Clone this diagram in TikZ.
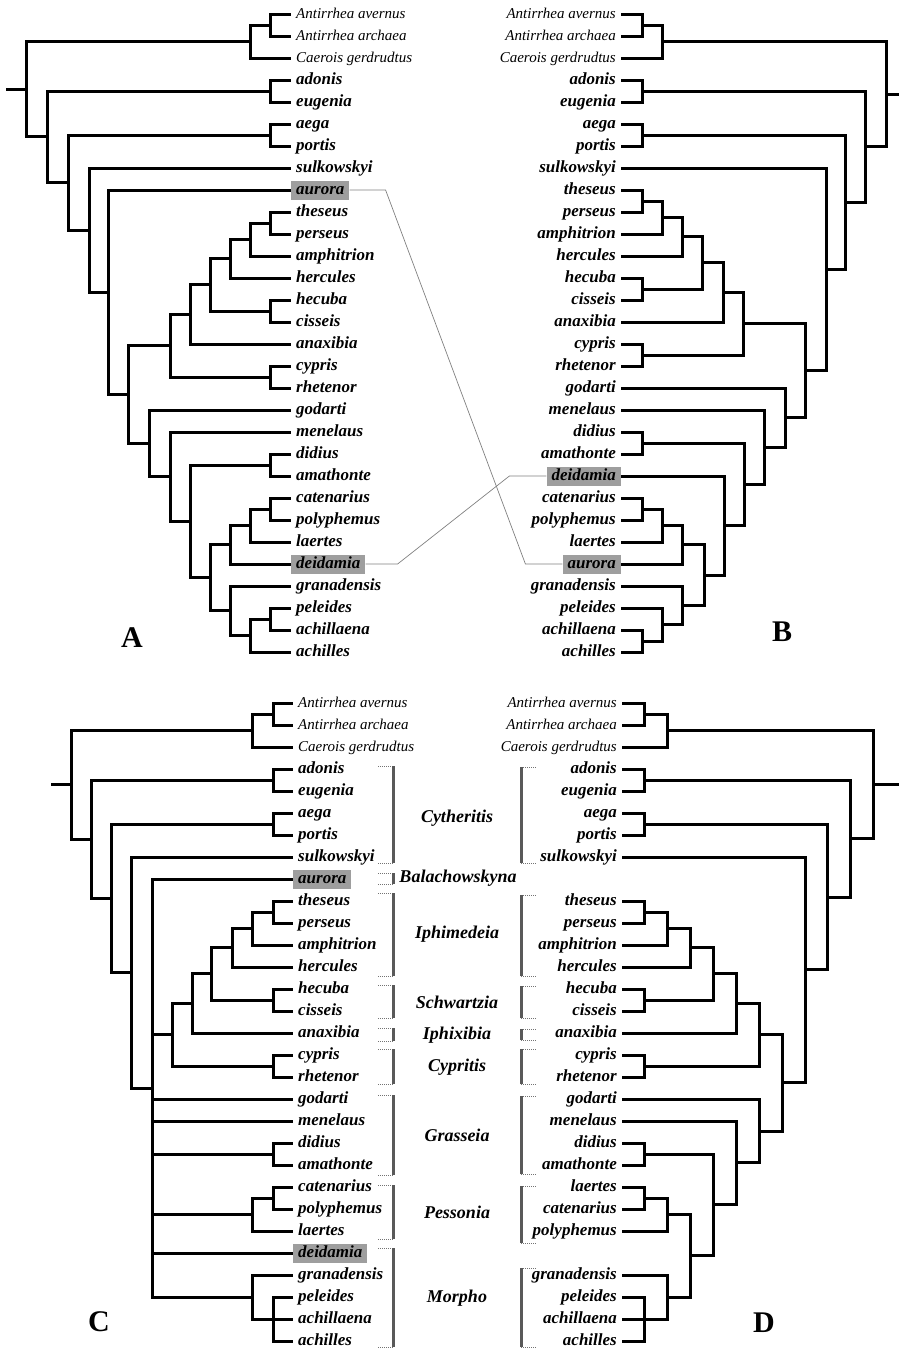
\documentclass[tikz,border=0pt]{standalone}
\usepackage{fontspec}
\setmainfont{Liberation Serif}
\usepackage{tikz}

\newcommand\spfont{\fontsize{17}{17}\selectfont\bfseries\itshape}
\newcommand\ogfont{\fontsize{15}{15}\selectfont\itshape}
\newcommand\grfont{\fontsize{18}{18}\selectfont\bfseries\itshape}

\begin{document}
\begin{tikzpicture}[x=1pt, y=-1pt,
  br/.style={line width=3pt},
  sp/.style={font=\spfont, inner xsep=5pt, inner ysep=1.5pt, text height=12pt, text depth=4pt},
  og/.style={sp, font=\ogfont},
  pl/.style={},
  hl/.style={fill=black!38},
  link/.style={gray, line width=0.7pt},
  grpbar/.style={black!65, line width=3pt},
  grptick/.style={black!55, densely dotted, line width=1pt},
  grp/.style={font=\grfont},
  panel/.style={font=\fontsize{30}{30}\selectfont\bfseries}]

\useasboundingbox (0,0) rectangle (899,1349);

% ---------------- A ----------------
% Hojas A
\foreach \i/\nm/\st in {0/Antirrhea avernus/og, 1/Antirrhea archaea/og, 2/Caerois gerdrudtus/og,
  3/adonis/pl, 4/eugenia/pl, 5/aega/pl, 6/portis/pl, 7/sulkowskyi/pl, 8/aurora/hl,
  9/theseus/pl, 10/perseus/pl, 11/amphitrion/pl, 12/hercules/pl, 13/hecuba/pl, 14/cisseis/pl,
  15/anaxibia/pl, 16/cypris/pl, 17/rhetenor/pl, 18/godarti/pl, 19/menelaus/pl, 20/didius/pl,
  21/amathonte/pl, 22/catenarius/pl, 23/polyphemus/pl, 24/laertes/pl, 25/deidamia/hl,
  26/granadensis/pl, 27/peleides/pl, 28/achillaena/pl, 29/achilles/pl}
  \node[sp, \st, anchor=west] (a\i) at (291, {14+22*\i}) {\nm};

% Nodos internos A
\coordinate (aO1) at (270,25);
\coordinate (aO) at (250,41.5);
\coordinate (aC1) at (270,91);
\coordinate (aC2) at (270,135);
\coordinate (aIph1) at (270,223);
\coordinate (aIph2) at (250,239.5);
\coordinate (aIph) at (230,258.8);
\coordinate (aSch) at (270,311);
\coordinate (aN3) at (210,284.9);
\coordinate (aN4) at (190,314.4);
\coordinate (aCyp) at (270,377);
\coordinate (aN5) at (170,345.7);
\coordinate (aDid) at (270,465);
\coordinate (aPes1) at (270,509);
\coordinate (aPes) at (250,525.5);
\coordinate (aPD) at (230,544.8);
\coordinate (aMor2) at (270,619);
\coordinate (aMor1) at (250,635.5);
\coordinate (aMor) at (230,610.8);
\coordinate (aM1) at (210,577.8);
\coordinate (aM2) at (190,521.4);
\coordinate (aM3) at (170,476.7);
\coordinate (aM4) at (149,443.4);
\coordinate (aN6) at (128,394.5);
\coordinate (aN7) at (108,292.3);
\coordinate (aN8) at (89,230.1);
\coordinate (aN9) at (68,182.6);
\coordinate (aIn) at (47,136.8);
\coordinate (aRoot) at (26,89.2);
\coordinate (aStub) at (6,89.2);

% Ramas A
\draw[br] (aO1) |- (a0) (aO1) |- (a1);
\draw[br] (aO) |- (aO1) (aO) |- (a2);
\draw[br] (aC1) |- (a3) (aC1) |- (a4);
\draw[br] (aC2) |- (a5) (aC2) |- (a6);
\draw[br] (aIph1) |- (a9) (aIph1) |- (a10);
\draw[br] (aIph2) |- (aIph1) (aIph2) |- (a11);
\draw[br] (aIph) |- (aIph2) (aIph) |- (a12);
\draw[br] (aSch) |- (a13) (aSch) |- (a14);
\draw[br] (aN3) |- (aIph) (aN3) |- (aSch);
\draw[br] (aN4) |- (aN3) (aN4) |- (a15);
\draw[br] (aCyp) |- (a16) (aCyp) |- (a17);
\draw[br] (aN5) |- (aN4) (aN5) |- (aCyp);
\draw[br] (aDid) |- (a20) (aDid) |- (a21);
\draw[br] (aPes1) |- (a22) (aPes1) |- (a23);
\draw[br] (aPes) |- (aPes1) (aPes) |- (a24);
\draw[br] (aPD) |- (aPes) (aPD) |- (a25);
\draw[br] (aMor2) |- (a27) (aMor2) |- (a28);
\draw[br] (aMor1) |- (aMor2) (aMor1) |- (a29);
\draw[br] (aMor) |- (a26) (aMor) |- (aMor1);
\draw[br] (aM1) |- (aPD) (aM1) |- (aMor);
\draw[br] (aM2) |- (aDid) (aM2) |- (aM1);
\draw[br] (aM3) |- (a19) (aM3) |- (aM2);
\draw[br] (aM4) |- (a18) (aM4) |- (aM3);
\draw[br] (aN6) |- (aN5) (aN6) |- (aM4);
\draw[br] (aN7) |- (a8) (aN7) |- (aN6);
\draw[br] (aN8) |- (a7) (aN8) |- (aN7);
\draw[br] (aN9) |- (aC2) (aN9) |- (aN8);
\draw[br] (aIn) |- (aC1) (aIn) |- (aN9);
\draw[br] (aRoot) |- (aO) (aRoot) |- (aIn);
\draw[br] (aStub) -- (aRoot);

\node[panel] (lblA) at (132,638) {A};

% ---------------- B ----------------
% Hojas B
\foreach \i/\nm/\st in {0/Antirrhea avernus/og, 1/Antirrhea archaea/og, 2/Caerois gerdrudtus/og,
  3/adonis/pl, 4/eugenia/pl, 5/aega/pl, 6/portis/pl, 7/sulkowskyi/pl, 8/theseus/pl,
  9/perseus/pl, 10/amphitrion/pl, 11/hercules/pl, 12/hecuba/pl, 13/cisseis/pl, 14/anaxibia/pl,
  15/cypris/pl, 16/rhetenor/pl, 17/godarti/pl, 18/menelaus/pl, 19/didius/pl, 20/amathonte/pl,
  21/deidamia/hl, 22/catenarius/pl, 23/polyphemus/pl, 24/laertes/pl, 25/aurora/hl,
  26/granadensis/pl, 27/peleides/pl, 28/achillaena/pl, 29/achilles/pl}
  \node[sp, \st, anchor=east] (b\i) at (621, {14+22*\i}) {\nm};

% Nodos internos B
\coordinate (bO1) at (642,25);
\coordinate (bO) at (662,41.5);
\coordinate (bC1) at (642,91);
\coordinate (bC2) at (642,135);
\coordinate (bIph1) at (642,201);
\coordinate (bIph2) at (662,217.5);
\coordinate (bIph) at (682,236.8);
\coordinate (bSch) at (642,289);
\coordinate (bN3) at (702,262.9);
\coordinate (bN4) at (723,292.4);
\coordinate (bCyp) at (642,355);
\coordinate (bN5) at (743,323.7);
\coordinate (bDid) at (642,443);
\coordinate (bPes1) at (642,509);
\coordinate (bPes) at (662,525.5);
\coordinate (bPA) at (682,544.8);
\coordinate (bMor2) at (642,641);
\coordinate (bMor1) at (662,624.5);
\coordinate (bMor) at (682,605.3);
\coordinate (bM1) at (704,575);
\coordinate (bM2) at (724,525.5);
\coordinate (bM3) at (744,484.3);
\coordinate (bM4) at (764,447.1);
\coordinate (bM5) at (785,417.6);
\coordinate (bN6) at (805,370.6);
\coordinate (bN7) at (826,269.3);
\coordinate (bN8) at (845,202.2);
\coordinate (bIn) at (865,146.6);
\coordinate (bRoot) at (886,94);
\coordinate (bStub) at (899,94);

% Ramas B
\draw[br] (bO1) |- (b0) (bO1) |- (b1);
\draw[br] (bO) |- (bO1) (bO) |- (b2);
\draw[br] (bC1) |- (b3) (bC1) |- (b4);
\draw[br] (bC2) |- (b5) (bC2) |- (b6);
\draw[br] (bIph1) |- (b8) (bIph1) |- (b9);
\draw[br] (bIph2) |- (bIph1) (bIph2) |- (b10);
\draw[br] (bIph) |- (bIph2) (bIph) |- (b11);
\draw[br] (bSch) |- (b12) (bSch) |- (b13);
\draw[br] (bN3) |- (bIph) (bN3) |- (bSch);
\draw[br] (bN4) |- (bN3) (bN4) |- (b14);
\draw[br] (bCyp) |- (b15) (bCyp) |- (b16);
\draw[br] (bN5) |- (bN4) (bN5) |- (bCyp);
\draw[br] (bDid) |- (b19) (bDid) |- (b20);
\draw[br] (bPes1) |- (b22) (bPes1) |- (b23);
\draw[br] (bPes) |- (bPes1) (bPes) |- (b24);
\draw[br] (bPA) |- (bPes) (bPA) |- (b25);
\draw[br] (bMor2) |- (b28) (bMor2) |- (b29);
\draw[br] (bMor1) |- (b27) (bMor1) |- (bMor2);
\draw[br] (bMor) |- (b26) (bMor) |- (bMor1);
\draw[br] (bM1) |- (bPA) (bM1) |- (bMor);
\draw[br] (bM2) |- (b21) (bM2) |- (bM1);
\draw[br] (bM3) |- (bDid) (bM3) |- (bM2);
\draw[br] (bM4) |- (b18) (bM4) |- (bM3);
\draw[br] (bM5) |- (b17) (bM5) |- (bM4);
\draw[br] (bN6) |- (bN5) (bN6) |- (bM5);
\draw[br] (bN7) |- (b7) (bN7) |- (bN6);
\draw[br] (bN8) |- (bC2) (bN8) |- (bN7);
\draw[br] (bIn) |- (bC1) (bIn) |- (bN8);
\draw[br] (bRoot) |- (bO) (bRoot) |- (bIn);
\draw[br] (bStub) -- (bRoot);

\node[panel] (lblB) at (782,632) {B};

% Lineas que unen aurora y deidamia
\draw[link] (a8.east) -- ++(36,0) -- ([xshift=-37pt]b25.west) -- (b25.west);
\draw[link] (a25.east) -- ++(32,0) -- ([xshift=-37pt]b21.west) -- (b21.west);

% ---------------- C ----------------
% Hojas C
\foreach \i/\nm/\st in {0/Antirrhea avernus/og, 1/Antirrhea archaea/og, 2/Caerois gerdrudtus/og,
  3/adonis/pl, 4/eugenia/pl, 5/aega/pl, 6/portis/pl, 7/sulkowskyi/pl, 8/aurora/hl,
  9/theseus/pl, 10/perseus/pl, 11/amphitrion/pl, 12/hercules/pl, 13/hecuba/pl, 14/cisseis/pl,
  15/anaxibia/pl, 16/cypris/pl, 17/rhetenor/pl, 18/godarti/pl, 19/menelaus/pl, 20/didius/pl,
  21/amathonte/pl, 22/catenarius/pl, 23/polyphemus/pl, 24/laertes/pl, 25/deidamia/hl,
  26/granadensis/pl, 27/peleides/pl, 28/achillaena/pl, 29/achilles/pl}
  \node[sp, \st, anchor=west] (c\i) at (293, {703+22*\i}) {\nm};

% Nodos internos C
\coordinate (cO1) at (273,714);
\coordinate (cO) at (252,730.5);
\coordinate (cC1) at (273,780);
\coordinate (cC2) at (273,824);
\coordinate (cIph1) at (273,912);
\coordinate (cIph2) at (252,928.5);
\coordinate (cIph) at (232,947.8);
\coordinate (cSch) at (273,1000);
\coordinate (cN3) at (211,973.9);
\coordinate (cN4) at (192,1003.4);
\coordinate (cCyp) at (273,1066);
\coordinate (cN5) at (172,1034.7);
\coordinate (cDid) at (273,1154);
\coordinate (cPes1) at (273,1198);
\coordinate (cPes) at (252,1214.5);
\coordinate (cMor1) at (273,1319);
\coordinate (cMor) at (252,1297);
\coordinate (cPoly) at (152,1088);
\coordinate (cN7) at (131,972.5);
\coordinate (cN8) at (111,898.3);
\coordinate (cIn) at (91,839.1);
\coordinate (cRoot) at (71,784.8);
\coordinate (cStub) at (51,784.8);

% Ramas C
\draw[br] (cO1) |- (c0) (cO1) |- (c1);
\draw[br] (cO) |- (cO1) (cO) |- (c2);
\draw[br] (cC1) |- (c3) (cC1) |- (c4);
\draw[br] (cC2) |- (c5) (cC2) |- (c6);
\draw[br] (cIph1) |- (c9) (cIph1) |- (c10);
\draw[br] (cIph2) |- (cIph1) (cIph2) |- (c11);
\draw[br] (cIph) |- (cIph2) (cIph) |- (c12);
\draw[br] (cSch) |- (c13) (cSch) |- (c14);
\draw[br] (cN3) |- (cIph) (cN3) |- (cSch);
\draw[br] (cN4) |- (cN3) (cN4) |- (c15);
\draw[br] (cCyp) |- (c16) (cCyp) |- (c17);
\draw[br] (cN5) |- (cN4) (cN5) |- (cCyp);
\draw[br] (cDid) |- (c20) (cDid) |- (c21);
\draw[br] (cPes1) |- (c22) (cPes1) |- (c23);
\draw[br] (cPes) |- (cPes1) (cPes) |- (c24);
\draw[br] (cMor1) |- (c27) (cMor1) |- (c28) (cMor1) |- (c29);
\draw[br] (cMor) |- (c26) (cMor) |- (cMor1);
\draw[br] (cPoly) |- (c8) (cPoly) |- (cN5) (cPoly) |- (c18) (cPoly) |- (c19)
          (cPoly) |- (cDid) (cPoly) |- (cPes) (cPoly) |- (c25) (cPoly) |- (cMor);
\draw[br] (cN7) |- (c7) (cN7) |- (cPoly);
\draw[br] (cN8) |- (cC2) (cN8) |- (cN7);
\draw[br] (cIn) |- (cC1) (cIn) |- (cN8);
\draw[br] (cRoot) |- (cO) (cRoot) |- (cIn);
\draw[br] (cStub) -- (cRoot);

\node[panel] (lblC) at (99,1322) {C};

% Corchetes C
\draw[grptick] (378,766) -- (393,766) (378,863) -- (393,863);
\draw[grpbar] (393,766) -- (393,863);
\draw[grptick] (378,873) -- (393,873) (378,884) -- (393,884);
\draw[grpbar] (393,873) -- (393,884);
\draw[grptick] (378,893) -- (393,893) (378,976) -- (393,976);
\draw[grpbar] (393,893) -- (393,976);
\draw[grptick] (378,985) -- (393,985) (378,1018) -- (393,1018);
\draw[grpbar] (393,985) -- (393,1018);
\draw[grptick] (378,1028) -- (393,1028) (378,1041) -- (393,1041);
\draw[grpbar] (393,1028) -- (393,1041);
\draw[grptick] (378,1049) -- (393,1049) (378,1084) -- (393,1084);
\draw[grpbar] (393,1049) -- (393,1084);
\draw[grptick] (378,1095) -- (393,1095) (378,1175) -- (393,1175);
\draw[grpbar] (393,1095) -- (393,1175);
\draw[grptick] (378,1185) -- (393,1185) (378,1239) -- (393,1239);
\draw[grpbar] (393,1185) -- (393,1239);
\draw[grptick] (378,1248) -- (393,1248) (378,1347) -- (393,1347);
\draw[grpbar] (393,1248) -- (393,1347);

% Nombres de grupos
\node[grp] (gCyt) at (457,818) {Cytheritis};
\node[grp] (gBal) at (458,878) {Balachowskyna};
\node[grp] (gIph) at (457,934) {Iphimedeia};
\node[grp] (gSch) at (457,1002) {Schwartzia};
\node[grp] (gIpx) at (457,1035) {Iphixibia};
\node[grp] (gCyp) at (457,1067) {Cypritis};
\node[grp] (gGra) at (457,1135) {Grasseia};
\node[grp] (gPes) at (457,1212) {Pessonia};
\node[grp] (gMor) at (457,1298) {Morpho};

% ---------------- D ----------------
% Hojas D
\foreach \i/\nm/\st in {0/Antirrhea avernus/og, 1/Antirrhea archaea/og, 2/Caerois gerdrudtus/og,
  3/adonis/pl, 4/eugenia/pl, 5/aega/pl, 6/portis/pl, 7/sulkowskyi/pl,
  9/theseus/pl, 10/perseus/pl, 11/amphitrion/pl, 12/hercules/pl, 13/hecuba/pl, 14/cisseis/pl,
  15/anaxibia/pl, 16/cypris/pl, 17/rhetenor/pl, 18/godarti/pl, 19/menelaus/pl, 20/didius/pl,
  21/amathonte/pl, 22/laertes/pl, 23/catenarius/pl, 24/polyphemus/pl,
  26/granadensis/pl, 27/peleides/pl, 28/achillaena/pl, 29/achilles/pl}
  \node[sp, \st, anchor=east] (d\i) at (622, {703+22*\i}) {\nm};

% Nodos internos D
\coordinate (dO1) at (644,714);
\coordinate (dO) at (667,730.5);
\coordinate (dC1) at (644,780);
\coordinate (dC2) at (644,824);
\coordinate (dIph1) at (644,912);
\coordinate (dIph2) at (667,928.5);
\coordinate (dIph) at (690,947.8);
\coordinate (dSch) at (644,1000);
\coordinate (dN3) at (713,973.9);
\coordinate (dN4) at (736,1003.4);
\coordinate (dCyp) at (644,1066);
\coordinate (dN5) at (759,1034.7);
\coordinate (dDid) at (644,1154);
\coordinate (dPes1) at (644,1198);
\coordinate (dPes) at (667,1214.5);
\coordinate (dMor1) at (644,1319);
\coordinate (dMor) at (667,1297);
\coordinate (dPM) at (690,1255.8);
\coordinate (dM1) at (713,1204.9);
\coordinate (dM2) at (736,1162.9);
\coordinate (dM3) at (759,1131);
\coordinate (dN6) at (782,1082.9);
\coordinate (dN7) at (805,969.9);
\coordinate (dN8) at (827,897);
\coordinate (dIn) at (850,838.5);
\coordinate (dRoot) at (873,784.5);
\coordinate (dStub) at (899,784.5);

% Ramas D
\draw[br] (dO1) |- (d0) (dO1) |- (d1);
\draw[br] (dO) |- (dO1) (dO) |- (d2);
\draw[br] (dC1) |- (d3) (dC1) |- (d4);
\draw[br] (dC2) |- (d5) (dC2) |- (d6);
\draw[br] (dIph1) |- (d9) (dIph1) |- (d10);
\draw[br] (dIph2) |- (dIph1) (dIph2) |- (d11);
\draw[br] (dIph) |- (dIph2) (dIph) |- (d12);
\draw[br] (dSch) |- (d13) (dSch) |- (d14);
\draw[br] (dN3) |- (dIph) (dN3) |- (dSch);
\draw[br] (dN4) |- (dN3) (dN4) |- (d15);
\draw[br] (dCyp) |- (d16) (dCyp) |- (d17);
\draw[br] (dN5) |- (dN4) (dN5) |- (dCyp);
\draw[br] (dDid) |- (d20) (dDid) |- (d21);
\draw[br] (dPes1) |- (d22) (dPes1) |- (d23);
\draw[br] (dPes) |- (dPes1) (dPes) |- (d24);
\draw[br] (dMor1) |- (d27) (dMor1) |- (d28) (dMor1) |- (d29);
\draw[br] (dMor) |- (d26) (dMor) |- (dMor1);
\draw[br] (dPM) |- (dPes) (dPM) |- (dMor);
\draw[br] (dM1) |- (dDid) (dM1) |- (dPM);
\draw[br] (dM2) |- (d19) (dM2) |- (dM1);
\draw[br] (dM3) |- (d18) (dM3) |- (dM2);
\draw[br] (dN6) |- (dN5) (dN6) |- (dM3);
\draw[br] (dN7) |- (d7) (dN7) |- (dN6);
\draw[br] (dN8) |- (dC2) (dN8) |- (dN7);
\draw[br] (dIn) |- (dC1) (dIn) |- (dN8);
\draw[br] (dRoot) |- (dO) (dRoot) |- (dIn);
\draw[br] (dStub) -- (dRoot);

\node[panel] (lblD) at (764,1323) {D};

% Corchetes D
\draw[grptick] (521,767) -- (536,767) (521,863) -- (536,863);
\draw[grpbar] (521,767) -- (521,863);
\draw[grptick] (521,895) -- (536,895) (521,976) -- (536,976);
\draw[grpbar] (521,895) -- (521,976);
\draw[grptick] (521,986) -- (536,986) (521,1018) -- (536,1018);
\draw[grpbar] (521,986) -- (521,1018);
\draw[grptick] (521,1029) -- (536,1029) (521,1040) -- (536,1040);
\draw[grpbar] (521,1029) -- (521,1040);
\draw[grptick] (521,1049) -- (536,1049) (521,1084) -- (536,1084);
\draw[grpbar] (521,1049) -- (521,1084);
\draw[grptick] (521,1096) -- (536,1096) (521,1174) -- (536,1174);
\draw[grpbar] (521,1096) -- (521,1174);
\draw[grptick] (521,1186) -- (536,1186) (521,1243) -- (536,1243);
\draw[grpbar] (521,1186) -- (521,1243);
\draw[grptick] (521,1268) -- (536,1268) (521,1347) -- (536,1347);
\draw[grpbar] (521,1268) -- (521,1347);

\end{tikzpicture}
\end{document}
